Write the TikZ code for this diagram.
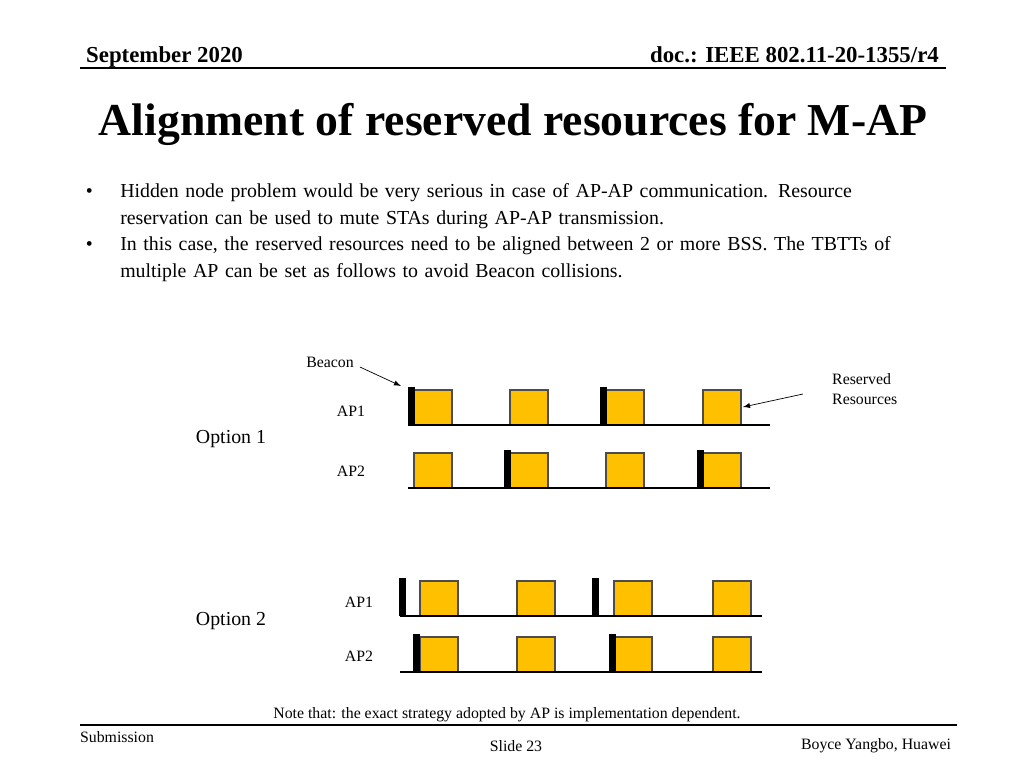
\documentclass[tikz,border=0pt]{standalone}
\usepackage{fontspec}
\setmainfont{Liberation Serif}
\usetikzlibrary{calc}
\definecolor{resyellow}{HTML}{FFC000}
\tikzset{
  resbox/.style={draw=black!70, fill=resyellow, line width=0.6pt},
  beaconbar/.style={fill=black},
  axisline/.style={black, line width=0.8pt},
  small/.style={font=\fontsize{9}{11}\selectfont},
}
% a reserved slot: left x, bottom y
\newcommand\slot[2]{
  \draw[resbox] (#1,#2) rectangle ++(38,-35);
}
% a beacon bar: left x, bottom y
\newcommand\beacon[2]{
  \fill[beaconbar] (#1,#2) rectangle ++(7,-38);
}
\begin{document}
\begin{tikzpicture}[x=0.02cm,y=-0.02cm]
  \useasboundingbox (0,0) rectangle (1024,768);
  % header
  \node[font=\fontsize{13}{15}\selectfont\bfseries, anchor=base west] (date) at (80,62) {September 2020};
  \node[font=\fontsize{13}{15}\selectfont\bfseries, anchor=base east] (doc) at (945,62) {doc.: IEEE 802.11-20-1355/r4};
  \draw[line width=0.8pt] (80,68) -- (946,68);
  \node[font=\fontsize{26}{30}\selectfont\bfseries] (title) at (513,124) {Alignment of reserved resources for M-AP};
  % bullets
  \node[anchor=north west, text width=830\pgflinewidth, font=\fontsize{11.3}{15.2}\selectfont, align=left, inner sep=0pt] (bul) at (76,183)
  {\begin{minipage}{16.4cm}\begin{itemize}\setlength{\itemsep}{0pt}\setlength{\parskip}{0pt}\setlength{\labelsep}{0.55cm}\setlength{\leftmargin}{0.72cm}
  \item Hidden node problem would be very serious in case of AP-AP communication. Resource reservation can be used to mute STAs during AP-AP transmission.
  \item In this case, the reserved resources need to be aligned between 2 or more BSS. The TBTTs of multiple AP can be set as follows to avoid Beacon collisions.
  \end{itemize}\end{minipage}};

  % option 1
  \foreach \x in {414,510,606,703} { \slot{\x}{425} \slot{\x}{488} }
  \beacon{408}{425} \beacon{600}{425}
  \beacon{504}{488} \beacon{697}{488}
  \draw[axisline] (408,425) -- (770,425);
  \draw[axisline] (408,488) -- (770,488);
  % option 2
  \foreach \x in {420,517,614,713} { \slot{\x}{616} \slot{\x}{672} }
  \beacon{399}{616} \beacon{592}{616}
  \beacon{413}{672} \beacon{609}{672}
  \draw[axisline] (400,616) -- (762,616);
  \draw[axisline] (400,672) -- (762,672);

  % labels
  \node[small] (beacon) at (330,362) {Beacon};
  \coordinate (beaconend) at (401,386);
  \draw[-latex] (beacon.east) ++(0,5) -- (beaconend);
  \node[small, align=left, anchor=west] (reserved) at (826,389) {Reserved\\Resources};
  \coordinate (resend) at (743,407);
  \draw[-latex] (803,394) -- (resend);
  \node[small] (ap1a) at (351,411) {AP1};
  \node[small] (ap2a) at (351,471) {AP2};
  \node[font=\fontsize{11.3}{13}\selectfont] (opt1) at (231,439) {Option 1};
  \node[small] (ap1b) at (359,602) {AP1};
  \node[small] (ap2b) at (359,656) {AP2};
  \node[font=\fontsize{11.3}{13}\selectfont] (opt2) at (231,621) {Option 2};
  \node[small] (note) at (507,715) {Note that: the exact strategy adopted by AP is implementation dependent.};

  % footer
  \draw[line width=0.8pt] (80,725) -- (957,725);
  \node[small] (sub) at (117,737) {Submission};
  \node[small] (slide) at (516,746) {Slide 23};
  \node[small] (auth) at (876,746) {Boyce Yangbo, Huawei};
\end{tikzpicture}
\end{document}
